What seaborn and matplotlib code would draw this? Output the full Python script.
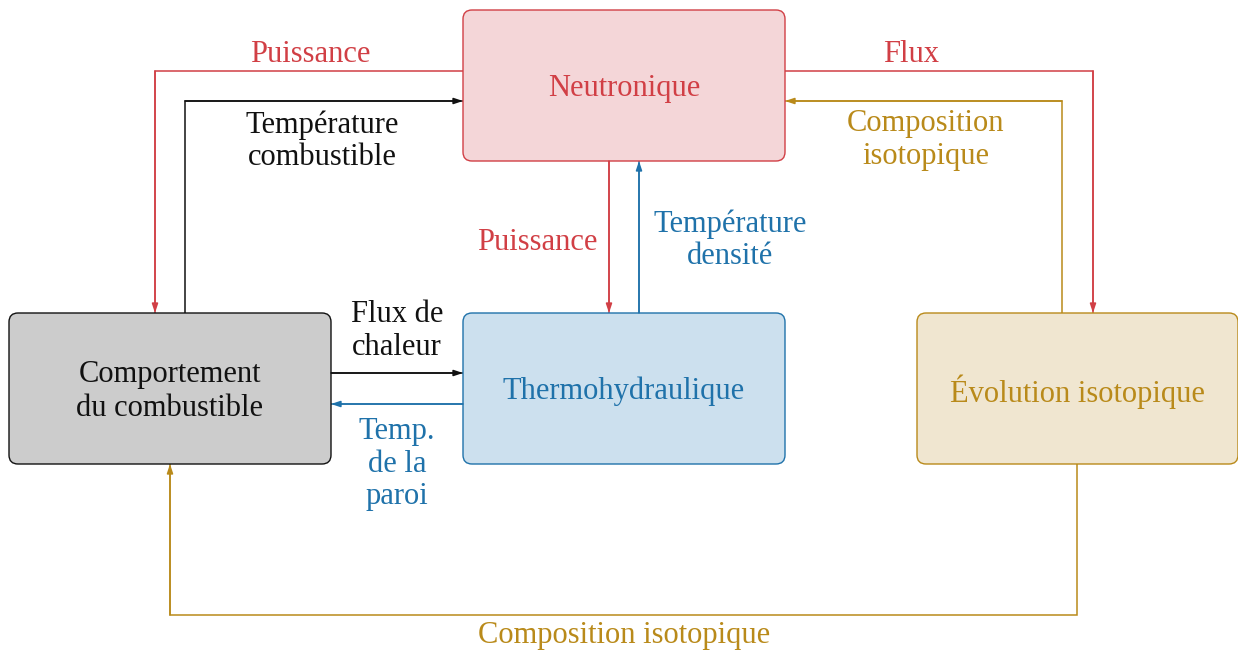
import matplotlib
matplotlib.use("Agg")
import matplotlib.pyplot as plt
import seaborn as sns
from matplotlib.patches import FancyBboxPatch

sns.set_theme(style="white")
plt.rcParams["font.family"] = ["Liberation Serif", "DejaVu Serif"]

RED = "#d13f45"
BLUE = "#1f72aa"
GOLD = "#b98a1a"
BLACK = "#111111"

# boxes: label, (x0, y0, x1, y1) in pixel coords, face, edge
box_labels = ["Neutronique", "Comportement\ndu combustible", "Thermohydraulique", "Évolution isotopique"]
box_rects = [(463, 10, 785, 161), (9, 313, 331, 464), (463, 313, 785, 464), (917, 313, 1238, 464)]
box_faces = ["#f4d6d8", "#cccccc", "#cce0ee", "#f0e6d0"]
box_edges = [RED, BLACK, BLUE, GOLD]
box_text = [RED, BLACK, BLUE, GOLD]

# connections: polyline points, color, label, label position
link_paths = [
    [(463, 71), (155, 71), (155, 313)],
    [(185, 313), (185, 101), (463, 101)],
    [(785, 71), (1093, 71), (1093, 313)],
    [(1062, 313), (1062, 101), (785, 101)],
    [(609, 161), (609, 313)],
    [(639, 313), (639, 161)],
    [(331, 373), (463, 373)],
    [(463, 404), (331, 404)],
    [(1077, 464), (1077, 615), (170, 615), (170, 464)],
]
link_colors = [RED, BLACK, RED, GOLD, RED, BLUE, BLACK, BLUE, GOLD]
link_labels = ["Puissance", "Température\ncombustible", "Flux", "Composition\nisotopique",
               "Puissance", "Température\ndensité", "Flux de\nchaleur", "Temp.\nde la\nparoi",
               "Composition isotopique"]
label_pos = [(310, 55), (322, 141), (911, 55), (926, 140), (537, 242), (730, 240),
             (397, 331), (397, 464), (624, 636)]

FS = 22

fig = plt.figure(figsize=(12.38, 6.53), dpi=100)
ax = fig.add_axes([0, 0, 1, 1])
ax.set_xlim(0, 1238)
ax.set_ylim(653, 0)
ax.axis("off")

for lab, (x0, y0, x1, y1), fc, ec, tc in zip(box_labels, box_rects, box_faces, box_edges, box_text):
    r = 9
    p = FancyBboxPatch((x0 + r, y0 + r), x1 - x0 - 2 * r, y1 - y0 - 2 * r,
                       boxstyle=f"round,pad={r}", fc=fc, ec=ec, lw=1.0, zorder=2)
    ax.add_patch(p)
    ax.text((x0 + x1) / 2, (y0 + y1) / 2 + 3, lab, ha="center", va="center",
            color=tc, fontsize=FS, linespacing=1.25, zorder=3)

for pts, c, lab, (lx, ly) in zip(link_paths, link_colors, link_labels, label_pos):
    xs = [p[0] for p in pts]
    ys = [p[1] for p in pts]
    ax.plot(xs, ys, color=c, lw=1.1, zorder=1, solid_joinstyle="miter")
    ax.annotate("", xy=pts[-1], xytext=pts[-2],
                arrowprops=dict(arrowstyle="-|>,head_length=0.45,head_width=0.15",
                                color=c, lw=1.1, shrinkA=0, shrinkB=0), zorder=4)
    ax.text(lx, ly, lab, ha="center", va="center", color=c, fontsize=FS,
            linespacing=1.15, zorder=3)

fig.savefig("out.png", dpi=100, facecolor="white")
